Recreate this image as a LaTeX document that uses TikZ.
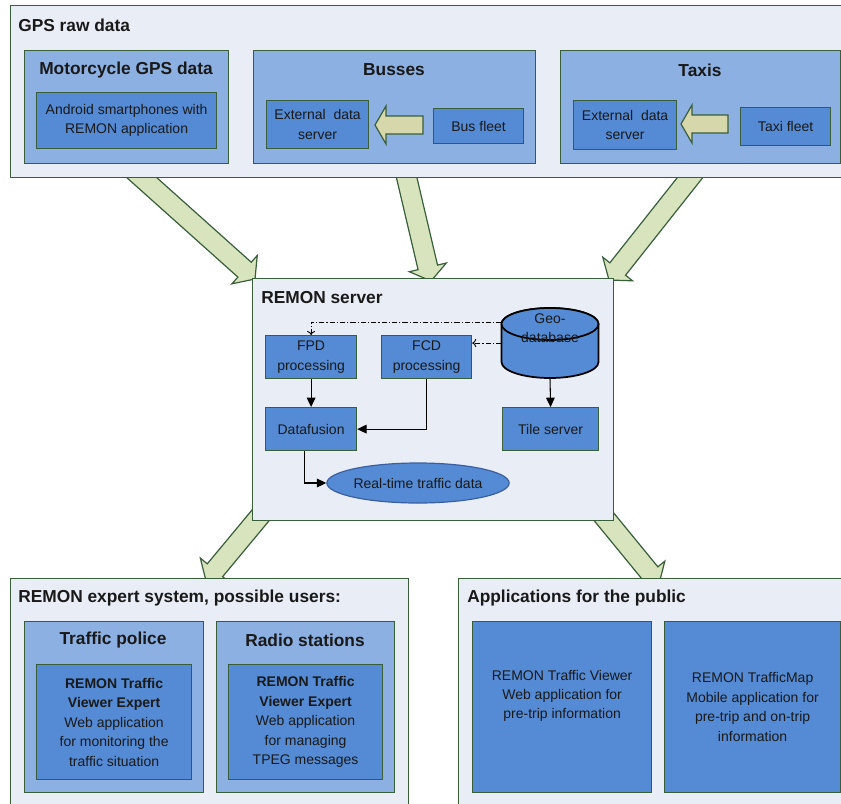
\documentclass[tikz,border=0pt]{standalone}
\usepackage{fontspec}
\setmainfont{Liberation Sans}
\usepackage{tikz}
\usetikzlibrary{calc}
\usetikzlibrary{arrows.meta}
\usetikzlibrary{shapes.geometric}
\definecolor{framegreen}{RGB}{56,94,58}
\definecolor{panelgray}{RGB}{233,237,245}
\definecolor{midblue}{RGB}{141,176,226}
\definecolor{darkblue}{RGB}{84,139,212}
\definecolor{ovalblue}{RGB}{58,95,160}
\definecolor{arrowgreen}{RGB}{215,228,189}
\definecolor{arrowkhaki}{RGB}{214,215,170}
\definecolor{textblack}{RGB}{25,25,25}
\pgfdeclarelayer{background}
\pgfsetlayers{background,main}
\newcommand{\dbrx}{36.375pt}
\newcommand{\dbry}{12pt}
% style, from, to, half shaft, half head, head length
\newcommand{\fatarrow}[6]{%
    \coordinate (neck) at ($(#3)!#6!(#2)$);
    \draw[#1] ($(#2)!#4!90:(#3)$) -- ($(neck)!#4!90:(#3)$) -- ($(neck)!#5!90:(#3)$) -- (#3)
        -- ($(neck)!#5!-90:(#3)$) -- ($(neck)!#4!-90:(#3)$) -- ($(#2)!#4!-90:(#3)$) -- cycle;
}
\tikzset{
    common/.style={anchor=north west, draw=framegreen, line width=0.9pt, inner sep=0pt, rectangle, text=textblack},
    wh/.style 2 args={minimum width=#1*0.75pt, minimum height=#2*0.75pt},
    panel/.style={common, fill=panelgray},
    group/.style={common, fill=midblue},
    unit/.style={common, fill=darkblue, align=center, font=\fontsize{10.5}{14.6}\selectfont},
    title/.style={anchor=west, inner sep=0pt, text=textblack, font=\fontsize{13}{16}\selectfont\bfseries},
    heading/.style={title, anchor=center},
    disk/.style={draw=black, line width=1.3pt, fill=darkblue},
    geobox/.style={rectangle, inner sep=0pt, wh={97}{70}},
    geotext/.style={align=center, inner sep=0pt, text=textblack, yshift=11pt,
        font=\fontsize{10.5}{14.6}\selectfont},
    oval/.style={ellipse, draw=ovalblue, line width=0.9pt, fill=darkblue, inner sep=0pt, text=textblack,
        minimum width=153*0.75pt, minimum height=40*0.75pt, font=\fontsize{10.5}{14.6}\selectfont},
    flow/.style={draw=black, line width=0.8pt, -{Triangle[length=7pt, width=6.5pt]}},
    lookup/.style={draw=black, line width=0.7pt, dash pattern=on 4pt off 1.5pt on 0.8pt off 1.5pt,
        -{To[length=3pt, width=6pt]}},
    bigarrow/.style={draw=framegreen, line width=0.9pt, fill=arrowgreen, line join=miter},
    smallarrow/.style={draw=framegreen, line width=0.9pt, fill=arrowkhaki, line join=miter}
}
\begin{document}
\begin{tikzpicture}[x=0.75pt, y=-0.75pt]
    \useasboundingbox (0,0) rectangle (841,803);
    \clip (0,0) rectangle (841,803);

    % GPS raw data
    \node[panel, wh={845}{172}] (gps) at (10,5) {};
    \node[title] (gps-title) at (18,25) {GPS raw data};

    \node[group, wh={204}{113}] (moto) at (24,50) {};
    \node[heading] (moto-title) at (126,70) {Motorcycle GPS data};
    \node[unit, wh={180}{56}] (android) at (36,92) {Android smartphones with\\REMON application};

    \node[group, wh={282}{113}] (bus) at (253,50) {};
    \node[heading] (bus-title) at (394,70) {Busses};
    \node[unit, wh={102}{48}] (bus-ext) at (266,100) {External\ \ data\\server};
    \node[unit, wh={90}{35}] (bus-fleet) at (433,108) {Bus fleet};
    \coordinate (bus-from) at (423,125);
    \coordinate (bus-to) at (375,125);
    \fatarrow{smallarrow}{bus-from}{bus-to}{6.75pt}{14.25pt}{8.25pt}

    \node[group, wh={280}{113}] (taxi) at (560,50) {};
    \node[heading] (taxi-title) at (700,70) {Taxis};
    \node[unit, wh={103}{49}] (taxi-ext) at (573,100) {External\ \ data\\server};
    \node[unit, wh={90}{38}] (taxi-fleet) at (740,107) {Taxi fleet};
    \coordinate (taxi-from) at (728,124);
    \coordinate (taxi-to) at (681,124);
    \fatarrow{smallarrow}{taxi-from}{taxi-to}{6.75pt}{14.25pt}{8.25pt}

    % REMON server
    \node[panel, wh={361}{242}] (server) at (252,278) {};
    \node[title] (server-title) at (261,298) {REMON server};
    \node[unit, wh={91}{43}] (fpd) at (265,335) {FPD\\processing};
    \node[unit, wh={90}{43}] (fcd) at (381,335) {FCD\\processing};

    \coordinate (geo-top) at (550,324);
    \coordinate (geo-bottom) at (550,362);
    \draw[disk] ([xshift=-\dbrx]geo-top) -- ([xshift=-\dbrx]geo-bottom)
        arc[start angle=180, end angle=360, x radius=\dbrx, y radius=\dbry]
        -- ([xshift=\dbrx]geo-top) arc[start angle=0, end angle=180, x radius=\dbrx, y radius=\dbry] -- cycle;
    \draw[disk] (geo-top) ellipse[x radius=\dbrx, y radius=\dbry];
    \node[geobox, label={[geotext]center:{Geo-\\database}}] (geo) at (550,343) {};

    \node[unit, wh={91}{43}] (fusion) at (265,407) {Datafusion};
    \node[unit, wh={96}{43}] (tiles) at (502,407) {Tile server};
    \node[oval] (realtime) at (418,483) {Real-time traffic data};

    \coordinate (geo-tap) at ($(geo.west)+(0,-21)$);
    \draw[lookup] (geo-tap) -| (fpd.north);
    \draw[lookup] (geo.west) -- (geo.west -| fcd.east);
    \draw[flow] (fpd) -- (fusion);
    \draw[flow] (fcd.south) |- (fusion.east);
    \draw[flow] ([xshift=-5pt]fusion.south) |- (realtime.west);
    \draw[flow] (geo.south) -- (tiles.north);

    % REMON expert system
    \node[panel, wh={398}{240}] (expert) at (10,578) {};
    \node[title] (expert-title) at (18,598) {REMON expert system, possible users:};
    \node[group, wh={179}{171}] (police) at (24,621) {};
    \node[heading] (police-title) at (113,640) {Traffic police};
    \node[unit, wh={155}{115}] (police-app) at (36,664)
        {\bfseries REMON Traffic\\\bfseries Viewer Expert\\Web application\\for monitoring the\\traffic situation};
    \node[group, wh={178}{171}] (radio) at (216,621) {};
    \node[heading] (radio-title) at (305,640) {Radio stations};
    \node[unit, wh={154}{115}] (radio-app) at (228,664)
        {\bfseries REMON Traffic\\\bfseries Viewer Expert\\Web application\\for managing\\TPEG messages};

    % Applications for the public
    \node[panel, wh={400}{240}] (public) at (458,578) {};
    \node[title] (public-title) at (467,598) {Applications for the public};
    \node[unit, wh={179}{171}] (viewer) at (472,621)
        {REMON Traffic Viewer\\Web application for\\pre-trip information\\\strut};
    \node[unit, wh={176}{171}] (trafficmap) at (664,621)
        {REMON TrafficMap\\Mobile application for\\pre-trip and on-trip\\information};

    % flows between the blocks
    \coordinate (gps-out-1) at (131,168);
    \coordinate (gps-out-2) at (403,162);
    \coordinate (gps-out-3) at (700,165);
    \coordinate (server-in-1) at (255,279);
    \coordinate (server-in-2) at (431,281);
    \coordinate (server-in-3) at (609,280);
    \coordinate (server-out-1) at (265,510);
    \coordinate (server-out-2) at (600,512);
    \coordinate (expert-in) at (206,581);
    \coordinate (public-in) at (659,584);
    \begin{pgfonlayer}{background}
        \fatarrow{bigarrow}{gps-out-1}{server-in-1}{7.5pt}{14.25pt}{10.5pt}
        \fatarrow{bigarrow}{gps-out-2}{server-in-2}{7.5pt}{14.25pt}{10.5pt}
        \fatarrow{bigarrow}{gps-out-3}{server-in-3}{7.5pt}{14.25pt}{10.5pt}
        \fatarrow{bigarrow}{server-out-1}{expert-in}{7.5pt}{14.25pt}{10.5pt}
        \fatarrow{bigarrow}{server-out-2}{public-in}{7.5pt}{14.25pt}{10.5pt}
    \end{pgfonlayer}
\end{tikzpicture}
\end{document}
